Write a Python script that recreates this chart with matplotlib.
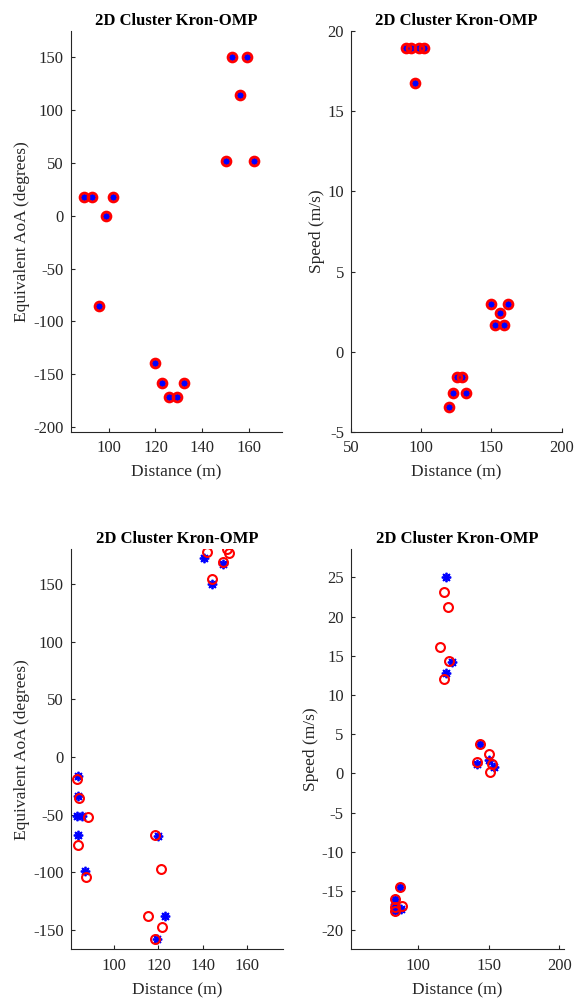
import numpy as np
import matplotlib
matplotlib.use("Agg")
import matplotlib.pyplot as plt

plt.rcParams['font.family'] = ['Liberation Serif', 'DejaVu Serif']
plt.rcParams['axes.unicode_minus'] = False

# top row: estimates sit on the true targets
top_dist = [89.5, 93.0, 98.7, 102.0, 95.9, 150.0, 152.8, 155.9, 159.0, 162.0,
            119.9, 122.8, 132.0, 125.8, 129.2]
top_aoa = [17.7, 17.7, 0.0, 17.7, -85.2, 52.4, 150.0, 114.3, 150.0, 52.4,
           -139.2, -158.4, -158.4, -171.7, -171.7]
top_speed = [18.92, 18.92, 18.96, 18.92, 16.76, 2.99, 1.70, 2.42, 1.70, 2.99,
             -3.41, -2.54, -2.54, -1.57, -1.57]

# bottom row, distance vs AoA
bl_true_dist = [140.6, 149.3, 144.1, 83.4, 83.6, 83.1, 85.2, 83.6, 86.7,
                119.9, 122.8, 119.4]
bl_true_aoa = [172.3, 167.0, 150.0, -16.2, -34.2, -51.5, -51.5, -68.0, -99.2,
               -68.3, -138.2, -158.2]
bl_est_dist = [142.1, 151.2, 152.1, 149.3, 144.1, 83.2, 84.1, 88.2, 83.6, 87.0,
               118.5, 121.0, 115.2, 121.7, 118.3]
bl_est_aoa = [177.5, 180.2, 176.9, 169.1, 154.0, -19.1, -35.6, -52.4, -76.1,
              -103.8, -67.6, -97.1, -137.6, -147.4, -157.8]

# bottom row, distance vs speed
br_true_dist = [119.8, 123.9, 119.8, 143.9, 150.3, 141.8, 153.8, 87.1, 84.0,
                84.0, 88.1, 83.8]
br_true_speed = [25.0, 14.19, 12.75, 3.70, 1.78, 1.15, 0.84, -14.46, -16.03,
                 -16.6, -17.3, -17.55]
br_est_dist = [118.4, 121.5, 115.6, 122.1, 118.4, 143.9, 150.3, 141.8, 152.6,
               151.2, 87.1, 84.0, 89.0, 84.0, 83.6]
br_est_speed = [23.15, 21.16, 16.06, 14.32, 11.98, 3.70, 2.46, 1.40, 1.27,
                0.25, -14.46, -16.03, -16.83, -17.0, -17.55]

title = '2D Cluster Kron-OMP'
asterisk = (8, 2, 0)

fig = plt.figure(figsize=(5.74, 9.98), dpi=100)
ax1 = fig.add_axes([0.1232, 0.5671, 0.368, 0.4018])
ax2 = fig.add_axes([0.6115, 0.5671, 0.367, 0.4018])
ax3 = fig.add_axes([0.1232, 0.0488, 0.3704, 0.4011])
ax4 = fig.add_axes([0.6110, 0.0488, 0.3716, 0.4011])


def scatter_pair(ax, td, tv, ed, ev, ring=1.5):
    ax.plot(td, tv, linestyle='none', marker=asterisk, ms=6.8, mew=1.3,
            color='#0000ff')
    ax.plot(ed, ev, linestyle='none', marker='o', ms=6.4, mew=ring,
            mfc='none', mec='#ff0000')


def style(ax, xlim, ylim, xticks, yticks, ylabel):
    ax.set_xlim(*xlim)
    ax.set_ylim(*ylim)
    ax.set_xticks(xticks)
    ax.set_yticks(yticks)
    for s in ['top', 'right']:
        ax.spines[s].set_visible(False)
    for s in ['left', 'bottom']:
        ax.spines[s].set_color('#262626')
        ax.spines[s].set_linewidth(0.8)
    ax.tick_params(direction='in', length=3, width=0.8, color='#262626',
                   labelcolor='#262626', labelsize=12)
    ax.tick_params(axis='x', pad=6)
    ax.tick_params(axis='y', pad=5)
    ax.set_title(title, fontsize=12, fontweight='bold', pad=4)
    ax.set_xlabel('Distance (m)', fontsize=12.5, color='#262626', labelpad=6)
    ax.set_ylabel(ylabel, fontsize=12.5, color='#262626', labelpad=2)


scatter_pair(ax1, top_dist, top_aoa, top_dist, top_aoa, ring=2.0)
style(ax1, (83.8, 174), (-204.7, 175), [100, 120, 140, 160],
      np.arange(-200, 151, 50), 'Equivalent AoA (degrees)')

scatter_pair(ax2, top_dist, top_speed, top_dist, top_speed, ring=2.0)
style(ax2, (50, 200), (-5, 20), [50, 100, 150, 200],
      np.arange(-5, 21, 5), 'Speed (m/s)')

scatter_pair(ax3, bl_true_dist, bl_true_aoa, bl_est_dist, bl_est_aoa)
style(ax3, (80.2, 176.6), (-166.7, 180.4), [100, 120, 140, 160],
      np.arange(-150, 151, 50), 'Equivalent AoA (degrees)')

scatter_pair(ax4, br_true_dist, br_true_speed, br_est_dist, br_est_speed)
style(ax4, (52.4, 203.3), (-22.4, 28.6), [100, 150, 200],
      np.arange(-20, 26, 5), 'Speed (m/s)')

fig.savefig('out.png', dpi=100)
